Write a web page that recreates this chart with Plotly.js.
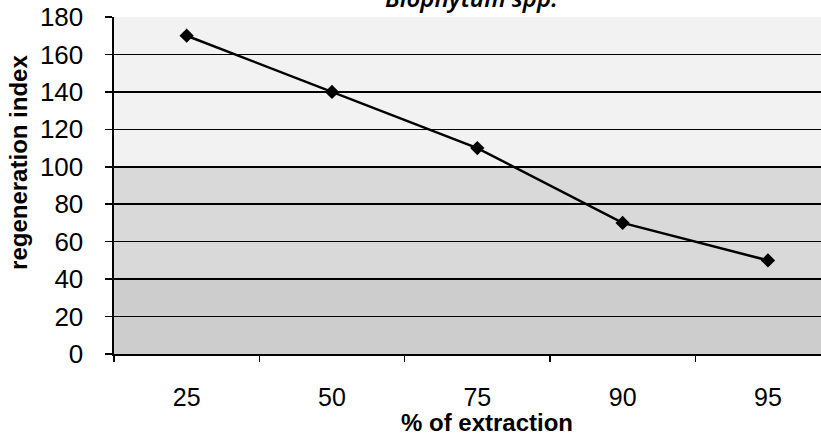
<!DOCTYPE html>
<html>
<head>
<meta charset="utf-8">
<script src="https://cdn.plot.ly/plotly-3.0.1.min.js"></script>
<style>
html,body{margin:0;padding:0;background:#fff;}
#chart{width:821px;height:437px;}
</style>
</head>
<body>
<div id="chart"></div>
<script>
const extraction = ["25", "50", "75", "90", "95"];
const regenerationIndex = [170, 140, 110, 70, 50];
const yTicks = [0, 20, 40, 60, 80, 100, 120, 140, 160, 180];
const titleText = "Biophytum spp.";
const xTitleText = "% of extraction";
const yTitleText = "regeneration index";

const trace = {
  x: extraction,
  y: regenerationIndex,
  type: "scatter",
  mode: "lines+markers",
  line: {color: "#000", width: 2.5},
  marker: {symbol: "diamond", size: 11, color: "#000"},
  cliponaxis: false,
  showlegend: false
};

const layout = {
  width: 821,
  height: 437,
  margin: {l: 114, r: 0, t: 17, b: 83},
  paper_bgcolor: "#fff",
  plot_bgcolor: "#f4f4f4",
  font: {family: "Liberation Sans, Arial, sans-serif", color: "#000"},
  xaxis: {
    type: "category",
    range: [-0.5, 4.365],
    showgrid: false,
    showline: true,
    linecolor: "#000",
    linewidth: 2,
    ticks: "outside",
    tickson: "boundaries",
    ticklen: 6,
    tickwidth: 1.5,
    tickcolor: "#000",
    ticklabelstandoff: 20,
    tickfont: {size: 25, family: "Liberation Sans Narrow, Liberation Sans, Arial, sans-serif"},
    zeroline: false
  },
  yaxis: {
    range: [0, 180],
    tickvals: yTicks,
    showgrid: true,
    gridcolor: "#000",
    gridwidth: 1.6,
    showline: true,
    linecolor: "#000",
    linewidth: 2.5,
    ticks: "outside",
    ticklen: 7,
    tickwidth: 1.5,
    tickcolor: "#000",
    ticklabelstandoff: 16,
    tickfont: {size: 26},
    zeroline: false
  },
  shapes: [
    {type: "rect", xref: "paper", yref: "y", x0: 0, x1: 1, y0: 0, y1: 40, fillcolor: "#cdcdcd", line: {width: 0}, layer: "below"},
    {type: "rect", xref: "paper", yref: "y", x0: 0, x1: 1, y0: 40, y1: 100, fillcolor: "#d9d9d9", line: {width: 0}, layer: "below"},
    {type: "rect", xref: "paper", yref: "y", x0: 0, x1: 1, y0: 100, y1: 180, fillcolor: "#f2f2f2", line: {width: 0}, layer: "below"}
  ],
  annotations: [
    {text: titleText, xref: "paper", yref: "paper", x: 0.505, y: 1, yanchor: "bottom", yshift: 1,
     showarrow: false, font: {family: "Noto Sans, Open Sans, sans-serif", size: 24, style: "italic", weight: 600, color: "#000"}},
    {text: "<b>" + xTitleText + "</b>", xref: "paper", yref: "paper", x: 0.528, y: 0, yanchor: "top", yshift: -53,
     showarrow: false, font: {size: 24, color: "#000"}},
    {text: "<b>" + yTitleText + "</b>", xref: "paper", yref: "paper", x: 0, xanchor: "center", xshift: -95,
     y: 0.567, yanchor: "middle", textangle: -90, showarrow: false, font: {size: 24, color: "#000"}}
  ]
};

Plotly.newPlot("chart", [trace], layout, {displayModeBar: false, staticPlot: true});
</script>
</body>
</html>
